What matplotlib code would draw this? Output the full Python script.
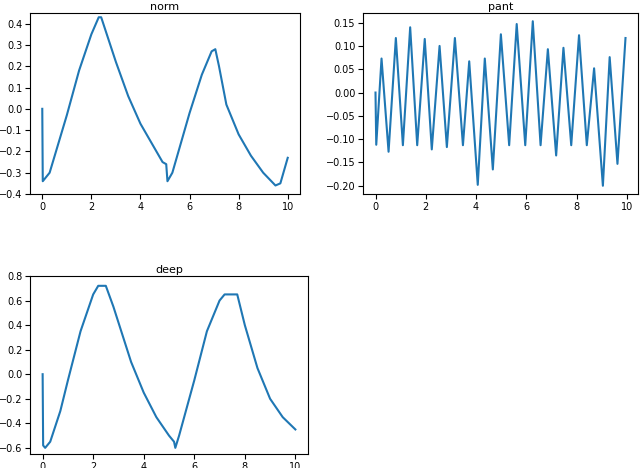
import numpy as np
import matplotlib.pyplot as plt

# --- dados ---
norm_t = [0, 0.02, 0.3, 1, 1.5, 2, 2.3, 2.4, 3, 3.5, 4, 4.5, 4.9, 5.05, 5.1, 5.3, 6, 6.5, 6.9, 7.05, 7.2, 7.5, 8, 8.5, 9, 9.5, 9.7, 10]
norm_y = [0, -0.34, -0.3, -0.03, 0.18, 0.35, 0.43, 0.43, 0.22, 0.06, -0.07, -0.17, -0.25, -0.26, -0.34, -0.3, -0.02, 0.16, 0.27, 0.28, 0.2, 0.02, -0.12, -0.22, -0.3, -0.36, -0.35, -0.23]

pant_t = [0, 0.03, 0.24, 0.52, 0.81, 1.09, 1.38, 1.66, 1.96, 2.24, 2.55, 2.84, 3.16, 3.48, 3.73, 4.07, 4.35, 4.67,
          4.99, 5.32, 5.62, 5.96, 6.26, 6.57, 6.86, 7.19, 7.48, 7.79, 8.10, 8.41, 8.70, 9.05, 9.32, 9.63, 9.95]
pant_y = [0, -0.112, 0.073, -0.127, 0.117, -0.113, 0.14, -0.113, 0.115, -0.122, 0.10, -0.117, 0.117, -0.113, 0.067, -0.198, 0.073, -0.165,
          0.125, -0.113, 0.147, -0.113, 0.153, -0.113, 0.093, -0.135, 0.096, -0.113, 0.123, -0.113, 0.052, -0.20, 0.076, -0.153, 0.117]

deep_t = [0, 0.02, 0.1, 0.3, 0.7, 1, 1.5, 2, 2.2, 2.5, 2.8, 3.5, 4, 4.5, 5, 5.2, 5.25, 5.4, 6, 6.5, 7, 7.2, 7.7, 8, 8.5, 9, 9.5, 10]
deep_y = [0, -0.58, -0.6, -0.55, -0.3, -0.05, 0.35, 0.65, 0.72, 0.72, 0.55, 0.1, -0.15, -0.35, -0.5, -0.55, -0.6, -0.5, -0.05, 0.35, 0.6, 0.65, 0.65, 0.4, 0.05, -0.2, -0.35, -0.45]

fig = plt.figure(figsize=(6.4, 4.68), dpi=100)
W, H = 640, 468

def eixo(x0, y0, x1, y1):
    return fig.add_axes([x0 / W, 1 - y1 / H, (x1 - x0) / W, (y1 - y0) / H])

ax1 = eixo(30, 13, 300, 194)
ax1.plot(norm_t, norm_y)
ax1.set_title("norm", fontsize=8, pad=2)
ax1.set_ylim(-0.4, 0.45)

ax2 = eixo(363, 13, 638, 194)
ax2.plot(pant_t, pant_y)
ax2.set_title("pant", fontsize=8, pad=2)
ax2.set_yticks(np.arange(-0.20, 0.151, 0.05))

ax3 = eixo(30, 276, 308, 454)
ax3.plot(deep_t, deep_y)
ax3.set_title("deep", fontsize=8, pad=2)
ax3.set_ylim(-0.65, 0.8)

for ax in (ax1, ax2, ax3):
    ax.tick_params(labelsize=7, pad=2)
    ax.set_xticks([0, 2, 4, 6, 8, 10])

plt.savefig("out.png", dpi=100)
